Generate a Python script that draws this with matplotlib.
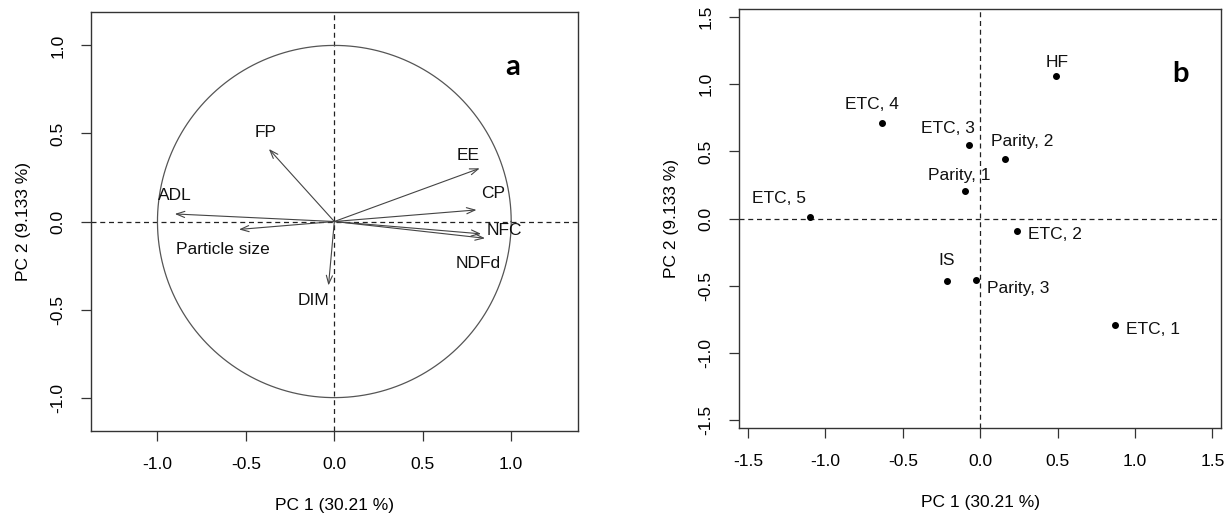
import numpy as np
import matplotlib
matplotlib.use("Agg")
import matplotlib.pyplot as plt

plt.rcParams['font.family'] = ['Liberation Sans', 'DejaVu Sans']

# correlation circle: variable loadings on PC1 / PC2
var_names = ['FP', 'EE', 'CP', 'NFC', 'NDFd', 'ADL', 'Particle size', 'DIM']
var_pc1 = [-0.37, 0.822, 0.804, 0.83, 0.852, -0.902, -0.539, -0.033]
var_pc2 = [0.412, 0.302, 0.066, -0.07, -0.095, 0.043, -0.045, -0.363]

# factor levels projected on the same plane
lvl_names = ['HF', 'ETC, 4', 'ETC, 3', 'Parity, 2', 'Parity, 1', 'ETC, 5',
             'ETC, 2', 'IS', 'Parity, 3', 'ETC, 1']
lvl_pc1 = [0.488, -0.634, -0.075, 0.158, -0.10, -1.10, 0.238, -0.215, -0.028, 0.872]
lvl_pc2 = [1.061, 0.710, 0.544, 0.445, 0.208, 0.01, -0.089, -0.467, -0.453, -0.794]

x_title = 'PC 1 (30.21 %)'
y_title = 'PC 2 (9.133 %)'

# label offsets in points (text centre relative to arrow tip / point)
var_offsets = [(-2.5, 12), (-8, 9), (12, 11.5), (17, 2.4), (-4.7, -18.4),
               (0, 13), (-11.6, -14.6), (-11, -10.8)]
lvl_offsets = [(1.3, 9.6), (-7.4, 13.7), (-15, 12), (12.3, 12.5), (-4.2, 11),
               (-22.3, 13.4), (27.5, -2.9), (0, 15.4), (30.5, -6.7), (27.5, -2.9)]

FS = 12.5


def style_axes(ax, xticks, yticks, xlim, ylim):
    ax.set_xlim(*xlim)
    ax.set_ylim(*ylim)
    ax.set_xticks(xticks)
    ax.set_yticks(yticks)
    ax.set_xticklabels([f'{t:.1f}' for t in xticks])
    ax.set_yticklabels([f'{t:.1f}' for t in yticks])
    ax.tick_params(direction='out', length=7.5, width=0.9, color='#333333',
                   labelsize=FS, pad=11)
    for lab in ax.get_yticklabels():
        lab.set_rotation(90)
        lab.set_va('center')
    for sp in ax.spines.values():
        sp.set_linewidth(1.0)
        sp.set_color('#333333')
    ax.axhline(0, color='#222222', lw=0.9, ls=(0, (4, 3)), zorder=1)
    ax.axvline(0, color='#222222', lw=0.9, ls=(0, (4, 3)), zorder=1)
    ax.set_xlabel(x_title, fontsize=FS, labelpad=19)
    ax.set_ylabel(y_title, fontsize=FS, labelpad=14)


fig = plt.figure(figsize=(12.26, 5.2), dpi=100)

# panel a
ax1 = fig.add_axes([0.0742, 0.171, 0.397, 0.806])
style_axes(ax1, [-1.0, -0.5, 0.0, 0.5, 1.0], [-1.0, -0.5, 0.0, 0.5, 1.0],
           (-1.376, 1.376), (-1.19, 1.19))
theta = np.linspace(0, 2 * np.pi, 400)
ax1.plot(np.cos(theta), np.sin(theta), color='#555555', lw=0.9)
for name, x, y, off in zip(var_names, var_pc1, var_pc2, var_offsets):
    ax1.annotate('', xy=(x, y), xytext=(0, 0),
                 arrowprops=dict(arrowstyle='->,head_length=0.6,head_width=0.22',
                                 color='#444444', lw=0.8, shrinkA=0, shrinkB=0))
    ax1.annotate(name, xy=(x, y), xytext=off, textcoords='offset points',
                 ha='center', va='center', fontsize=FS, color='#111111')
ax1.text(0.866, 0.869, 'a', transform=ax1.transAxes, fontsize=21,
         fontweight='bold', family=['Lato', 'DejaVu Sans'], ha='center', va='center')

# panel b
ax2 = fig.add_axes([0.603, 0.177, 0.393, 0.805])
ticks_b = [-1.5, -1.0, -0.5, 0.0, 0.5, 1.0, 1.5]
style_axes(ax2, ticks_b, ticks_b, (-1.556, 1.556), (-1.556, 1.556))
ax2.plot(lvl_pc1, lvl_pc2, 'o', color='black', markersize=4, zorder=3)
for name, x, y, off in zip(lvl_names, lvl_pc1, lvl_pc2, lvl_offsets):
    ax2.annotate(name, xy=(x, y), xytext=off, textcoords='offset points',
                 ha='center', va='center', fontsize=FS, color='#111111')
ax2.text(0.916, 0.846, 'b', transform=ax2.transAxes, fontsize=21,
         fontweight='bold', family=['Lato', 'DejaVu Sans'], ha='center', va='center')

fig.savefig('out.png', dpi=100)
